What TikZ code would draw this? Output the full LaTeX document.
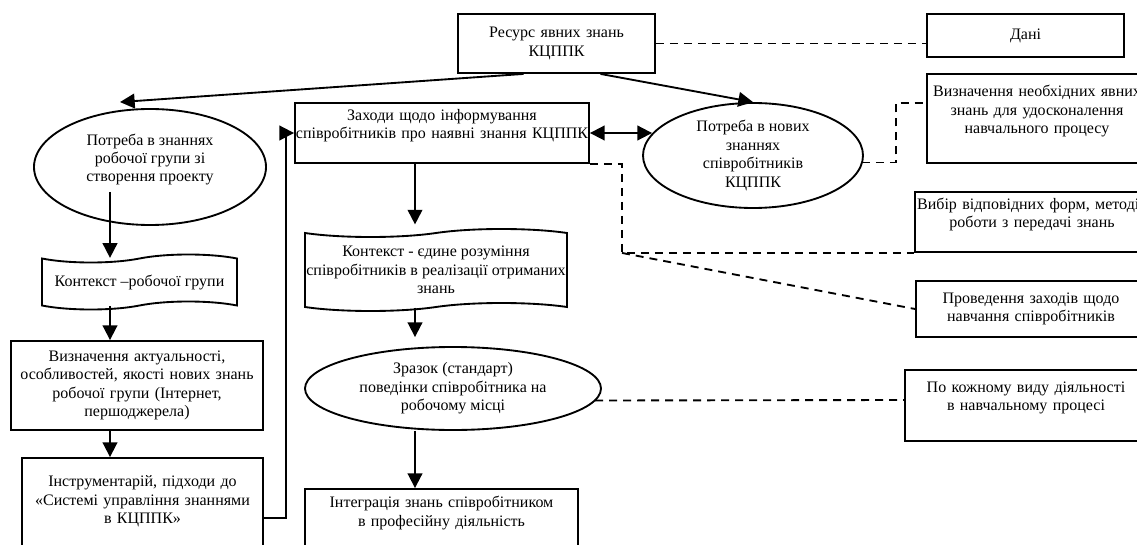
\documentclass[tikz,border=0pt]{standalone}
\usepackage{fontspec}
\setmainfont{Liberation Serif}
\usetikzlibrary{calc,arrows.meta,shapes.geometric,shapes.symbols}
\tikzset{
  every node/.style={font=\fontsize{12}{13.8}\selectfont, inner sep=0pt, align=center},
  box/.style={draw, line width=1.4pt, rectangle},
  oval/.style={draw, line width=1.4pt, ellipse},
  lenta/.style={draw, line width=1.4pt, tape, tape bend top=in and out, tape bend bottom=in and out, tape bend height=6pt},
  arr/.style={line width=1.4pt, -{Triangle[length=11pt,width=11pt]}},
  arr2/.style={line width=1.4pt, {Triangle[length=11pt,width=11pt]}-{Triangle[length=11pt,width=11pt]}},
  dashln/.style={line width=1.4pt, dash pattern=on 6pt off 4.5pt}
}

\begin{document}
\begin{tikzpicture}[x=0.75pt,y=-0.75pt]
	%%%%% START %%%%%
	\useasboundingbox (0,0) rectangle (1137,545);
	\clip (0,0) rectangle (1137,545);
	
	\coordinate (lcol) at (110,0);
	\coordinate (mcol) at (415,0);
	
	\node[box, text width=147.75pt, minimum height=44.25pt] (res) at (556.5,43.5) {Ресурс явних знань\\КЦППК};
	\node[box, text width=147.75pt, minimum height=32.25pt] (dani) at (1025.5,35.5) {Дані};
	
	\node[oval, minimum width=174pt, minimum height=87pt] (potreba) at (150,167) {Потреба в знаннях\\робочої групи зі\\створення проекту\\~};
	\node[box, text width=220.5pt, minimum height=45pt] (zahody) at (442,133) {Заходи щодо інформування\\співробітників про наявні знання КЦППК\\~};
	\node[oval, minimum width=165pt, minimum height=78.75pt] (potrnov) at (753,155.5) {Потреба в нових\\знаннях\\співробітників\\КЦППК};
	
	\node[box, text width=165pt, minimum height=66.75pt] (vyzn) at (1037,118.5) {Визначення необхідних явних\\знань для удосконалення\\навчального процесу\\~};
	\node[box, text width=175.5pt, minimum height=45pt] (vybir) at (1032,222) {Вибір відповідних форм, методів\\роботи з передачі знань\\~};
	\node[box, text width=172.5pt, minimum height=42pt] (proved) at (1031,309) {Проведення заходів щодо\\навчання співробітників};
	\node[box, text width=181.5pt, minimum height=53.25pt] (kozhn) at (1026,405.5) {По кожному виду діяльності\\в навчальному процесі\\~};
	
	\node[lenta, minimum width=146.25pt, minimum height=41.25pt] (kont1) at (139.5,282) {Контекст –робочої групи};
	\node[box, text width=189pt, minimum height=66.75pt] (aktual) at (137,385.5) {Визначення актуальності,\\особливостей, якості нових знань\\робочої групи (Інтернет,\\першоджерела)};
	\node[box, text width=180.75pt, minimum height=90pt] (instr) at (142.5,518) {Інструментарій, підходи до\\«Системі управління знаннями\\в КЦППК»\\~\\~};
	
	\node[lenta, minimum width=196.5pt, minimum height=61.5pt] (kont2) at (436,270) {Контекст - єдине розуміння\\співробітників в реалізації отриманих\\знань};
	\node[oval, minimum width=222pt, minimum height=62.25pt] (zrazok) at (453,388.5) {Зразок (стандарт)\\поведінки співробітника на\\робочому місці};
	\node[box, text width=204.75pt, minimum height=60.75pt] (integr) at (441.5,529.5) {Інтеграція знань співробітником\\в професійну діяльність\\~\\~};
	
	% arrows
	\draw[arr] ($(res.south)+(-33,0)$) -- ($(potreba.north)+(-30,-6)$);
	\draw[arr] ($(res.south)+(44,0)$) -- (potrnov.north);
	\draw[arr2] (zahody.east) -- ($(zahody.east -| potrnov.west)+(10,0)$);
	
	\draw[arr] ($(potreba.center)+(-40,25)$) -- (lcol |- kont1.north);
	\draw[arr] (lcol |- kont1.south) -- (lcol |- aktual.north);
	\draw[arr] (lcol |- aktual.south) -- (lcol |- instr.north);
	\draw[arr] (instr.east) -- ++(22,0) |- (zahody.west);
	
	\draw[arr] (mcol |- zahody.south) -- ($(mcol |- kont2.north)+(0,-8)$);
	\draw[arr] (mcol |- kont2.south) -- ($(mcol |- zrazok.north)+(0,-9)$);
	\draw[arr] (mcol |- zrazok.south) -- (mcol |- integr.north);
	
	% dashed links
	\draw[dashln] (res.east) -- (res.east -| dani.west);
	\draw[dashln] ($(potrnov.east)+(-2,7)$) -- ++(34,0) |- ($(vyzn.north west)+(0,30)$);
	\draw[dashln] (zahody.south east) -- ++(32,0) coordinate (zlam) -- (zlam |- vybir.south west) coordinate (kut) -- (vybir.south west);
	\draw[dashln] (kut) -- (proved.west);
	\draw[dashln] ($(zrazok.center)+(142,12)$) -- ($(kozhn.west)+(0,-5.5)$);
	%%%%% END %%%%%
\end{tikzpicture}
\end{document}
